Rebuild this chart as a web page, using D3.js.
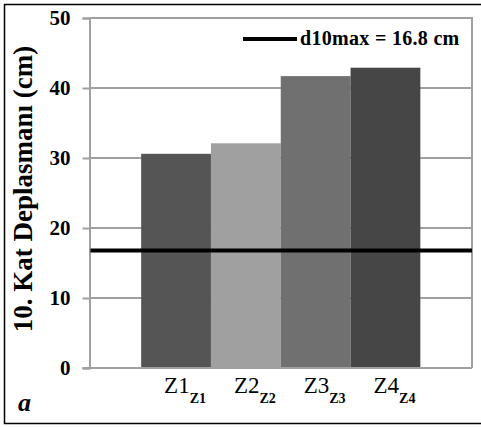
<!DOCTYPE html>
<html><head><meta charset="utf-8">
<script src="https://cdn.jsdelivr.net/npm/d3@7"></script>
<style>body{margin:0;background:#fff}svg{display:block}</style>
</head><body>
<script>
const categories = ["Z1", "Z2", "Z3", "Z4"];
const subscripts = ["Z1", "Z2", "Z3", "Z4"];
const values = [30.6, 32.1, 41.7, 42.9];
const colors = ["#555555", "#a0a0a0", "#707070", "#464646"];
const yTicks = [0, 10, 20, 30, 40, 50];
const limitValue = 16.8;
const limitLabel = "d10max = 16.8 cm";
const yTitle = "10. Kat Deplasmanı (cm)";

const W = 481, H = 427;
const svg = d3.select("body").append("svg").attr("width", W).attr("height", H);
const serif = "'Liberation Serif','Times New Roman',serif";

// outer border
svg.append("rect").attr("x", 4.5).attr("y", 4.5).attr("width", 490).attr("height", 419)
  .attr("fill", "#fff").attr("stroke", "#000").attr("stroke-width", 1.5);

const L = 89.5, R = 472, T = 18, B = 368;
const y = d3.scaleLinear().domain([0, 50]).range([B, T]);
const x = d3.scaleBand().domain(categories).range([L, R]).paddingInner(0).paddingOuter(0.74);

// gridlines
svg.append("g").selectAll("line").data(yTicks.filter(d => d > 0)).join("line")
  .attr("x1", L).attr("x2", R).attr("y1", d => y(d)).attr("y2", d => y(d))
  .attr("stroke", "#a0a0a0").attr("stroke-width", 2);
// right plot border
svg.append("line").attr("x1", R).attr("x2", R).attr("y1", T - 1).attr("y2", B)
  .attr("stroke", "#a0a0a0").attr("stroke-width", 2);

// bars
svg.append("g").selectAll("rect").data(values).join("rect")
  .attr("x", (d, i) => x(categories[i])).attr("width", x.bandwidth())
  .attr("y", d => y(d)).attr("height", d => y(0) - y(d))
  .attr("fill", (d, i) => colors[i]);

// axes
const yAxis = d3.axisLeft(y).tickValues(yTicks).tickSize(7).tickPadding(12);
const gy = svg.append("g").attr("transform", `translate(${L},0)`).call(yAxis);
gy.select(".domain").attr("stroke", "#a0a0a0").attr("stroke-width", 2);
gy.selectAll(".tick line").attr("stroke", "#a0a0a0").attr("stroke-width", 2);
gy.selectAll(".tick text").attr("font-family", serif).attr("font-weight", "bold")
  .attr("font-size", 21).attr("fill", "#000");

svg.append("line").attr("x1", L - 7).attr("x2", R).attr("y1", B).attr("y2", B)
  .attr("stroke", "#a0a0a0").attr("stroke-width", 2);

// x labels
const xl = svg.append("g").selectAll("text").data(categories).join("text")
  .attr("x", d => x(d) + x.bandwidth() / 2 + 9).attr("y", 393)
  .attr("text-anchor", "middle").attr("font-family", serif).attr("font-size", 23).attr("fill", "#000");
xl.append("tspan").text(d => d);
xl.append("tspan").attr("font-size", 14).attr("font-weight", "bold").attr("dy", 10)
  .text((d, i) => subscripts[i]);

// limit line
svg.append("line").attr("x1", L + 1).attr("x2", R).attr("y1", y(limitValue)).attr("y2", y(limitValue))
  .attr("stroke", "#000").attr("stroke-width", 4);

// legend
svg.append("line").attr("x1", 243).attr("x2", 297).attr("y1", 39).attr("y2", 39)
  .attr("stroke", "#000").attr("stroke-width", 4);
svg.append("text").attr("x", 300).attr("y", 45).attr("font-family", serif).attr("font-size", 20)
  .attr("font-weight", "bold").attr("letter-spacing", 0.3).attr("fill", "#000").text(limitLabel);

// y title
svg.append("text").attr("transform", `translate(32,${189}) rotate(-90)`)
  .attr("text-anchor", "middle").attr("font-family", serif).attr("font-weight", "bold")
  .attr("font-size", 27).attr("fill", "#000").text(yTitle);

// panel letter
svg.append("text").attr("x", 18).attr("y", 411).attr("font-family", serif).attr("font-weight", "bold")
  .attr("font-style", "italic").attr("font-size", 26).attr("fill", "#000").text("a");
</script>
</body></html>
